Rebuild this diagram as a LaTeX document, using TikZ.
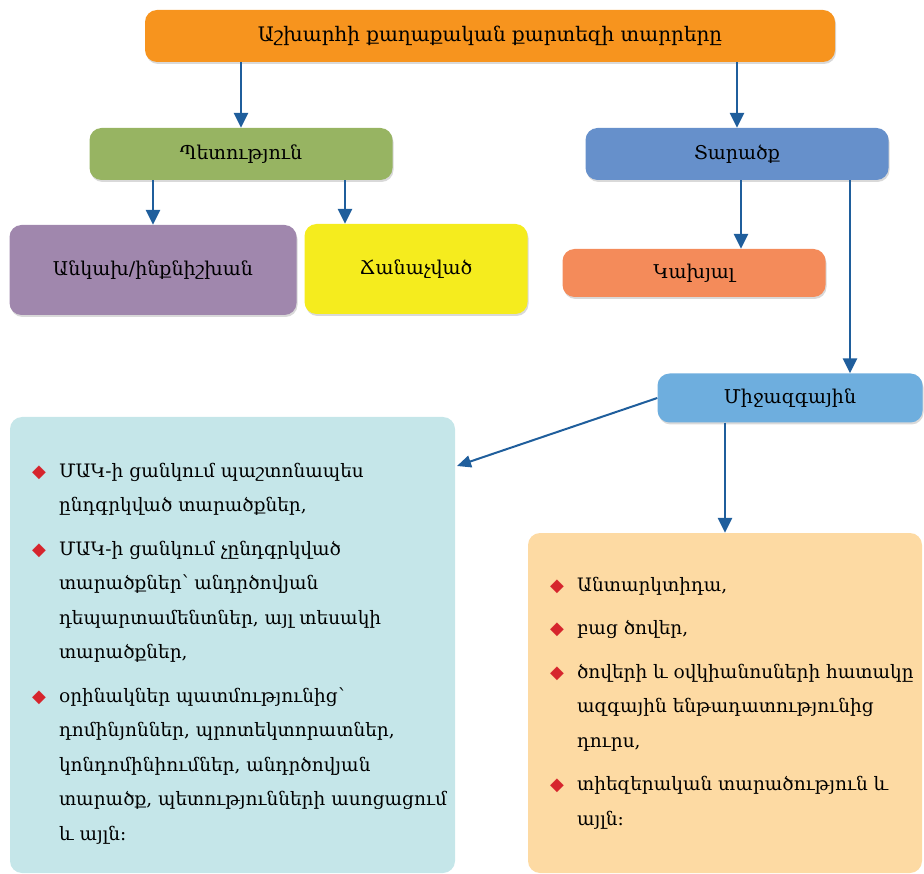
\documentclass[tikz,border=0pt]{standalone}
\usepackage{fontspec}
\setmainfont{DejaVu Serif}
\newfontfamily\symfont{DejaVu Sans}
\usetikzlibrary{arrows.meta,shadows}

\definecolor{titleorange}{HTML}{F7941E}
\definecolor{stategreen}{HTML}{97B462}
\definecolor{areablue}{HTML}{6690CB}
\definecolor{indeppurple}{HTML}{A087AD}
\definecolor{recogyellow}{HTML}{F5EC1E}
\definecolor{deporange}{HTML}{F48B5A}
\definecolor{interblue}{HTML}{6EAEDE}
\definecolor{leftcyan}{HTML}{C5E6E9}
\definecolor{rightpeach}{HTML}{FDDAA3}
\definecolor{linkblue}{HTML}{1F5E9C}
\definecolor{bulletred}{HTML}{D6252D}

\newcommand{\listmark}{\textcolor{bulletred}{\symfont\fontsize{18}{18}\selectfont ◆}}
\newcommand{\listfont}{\fontsize{18.5}{34.5}\selectfont}

\begin{document}
\begin{tikzpicture}[x=1pt,y=-1pt,
  box/.style={rounded corners=12pt, inner sep=0pt, font=\fontsize{19}{22}\selectfont,
    drop shadow={opacity=0.3, shadow xshift=1pt, shadow yshift=-2pt}},
  panel/.style={rounded corners=12pt, inner sep=0pt},
  link/.style={draw=linkblue, line width=2.6pt, -{Triangle[width=14pt,length=15pt]}},
  thinlink/.style={draw=linkblue, line width=2pt, -{Triangle[width=12pt,length=14pt]}}]
  \useasboundingbox (0,0) rectangle (924,874);

  % boxes
  \node[box, fill=titleorange, minimum width=690pt, minimum height=52pt,
    font=\fontsize{20}{24}\selectfont] (title) at (490,36)
    {Աշխարհի քաղաքական քարտեզի տարրերը};
  \node[box, fill=stategreen, minimum width=303pt, minimum height=52pt] (state) at (241,154)
    {Պետություն};
  \node[box, fill=areablue, minimum width=303pt, minimum height=52pt] (area) at (737,154)
    {Տարածք};
  \node[box, fill=indeppurple, minimum width=287pt, minimum height=90pt] (indep) at (153,270)
    {Անկախ/ինքնիշխան};
  \node[box, fill=recogyellow, minimum width=223pt, minimum height=90pt] (recog) at (416,269)
    {Ճանաչված};
  \node[box, fill=deporange, minimum width=263pt, minimum height=48pt] (dep) at (694,273)
    {Կախյալ};
  \node[box, fill=interblue, minimum width=265pt, minimum height=49pt] (inter) at (790,398)
    {Միջազգային};

  % panels
  \node[panel, fill=leftcyan, minimum width=445pt, minimum height=456pt] (lbox) at (232.5,645) {};
  \node[panel, fill=rightpeach, minimum width=394pt, minimum height=340pt] (rbox) at (725,703) {};

  \node[anchor=north west, inner sep=0pt, font=\listfont] (llist) at (32,453) {%
    \begin{tabular}{@{}l@{\hspace{13pt}}l@{}}
      \listmark & ՄԱԿ-ի ցանկում պաշտոնապես\\
                & ընդգրկված տարածքներ,\\[9pt]
      \listmark & ՄԱԿ-ի ցանկում չընդգրկված\\
                & տարածքներ՝ անդրծովյան\\
                & դեպարտամենտներ, այլ տեսակի\\
                & տարածքներ,\\[9pt]
      \listmark & օրինակներ պատմությունից՝\\
                & դոմինյոններ, պրոտեկտորատներ,\\
                & կոնդոմինիումներ, անդրծովյան\\
                & տարածք, պետությունների ասոցացում\\
                & և այլն։
    \end{tabular}};
  \node[anchor=north west, inner sep=0pt, font=\listfont] (rlist) at (550,567) {%
    \begin{tabular}{@{}l@{\hspace{13pt}}l@{}}
      \listmark & Անտարկտիդա,\\[9pt]
      \listmark & բաց ծովեր,\\[9pt]
      \listmark & ծովերի և օվկիանոսների հատակը\\
                & ազգային ենթադատությունից\\
                & դուրս,\\[9pt]
      \listmark & տիեզերական տարածություն և\\
                & այլն։
    \end{tabular}};

  % arrows
  \draw[link] (title.south -| state.north) -- (state.north);
  \draw[link] (title.south -| area.north) -- (area.north);
  \draw[link] (state.south -| indep.north) -- (indep.north);
  \draw[link] ([xshift=104pt]state.south) -- ([xshift=104pt]state.south |- recog.north);
  \draw[link] ([xshift=4pt]area.south) -- ([xshift=4pt]area.south |- dep.north);
  \draw[link] ([xshift=113pt]area.south) -- ([xshift=113pt]area.south |- inter.north);
  \draw[link] ([xshift=-65pt]inter.south) -- ([xshift=-65pt]inter.south |- rbox.north);
  \coordinate (lboxin) at (457,466);
  \draw[thinlink] (inter.west) -- (lboxin);
\end{tikzpicture}
\end{document}
